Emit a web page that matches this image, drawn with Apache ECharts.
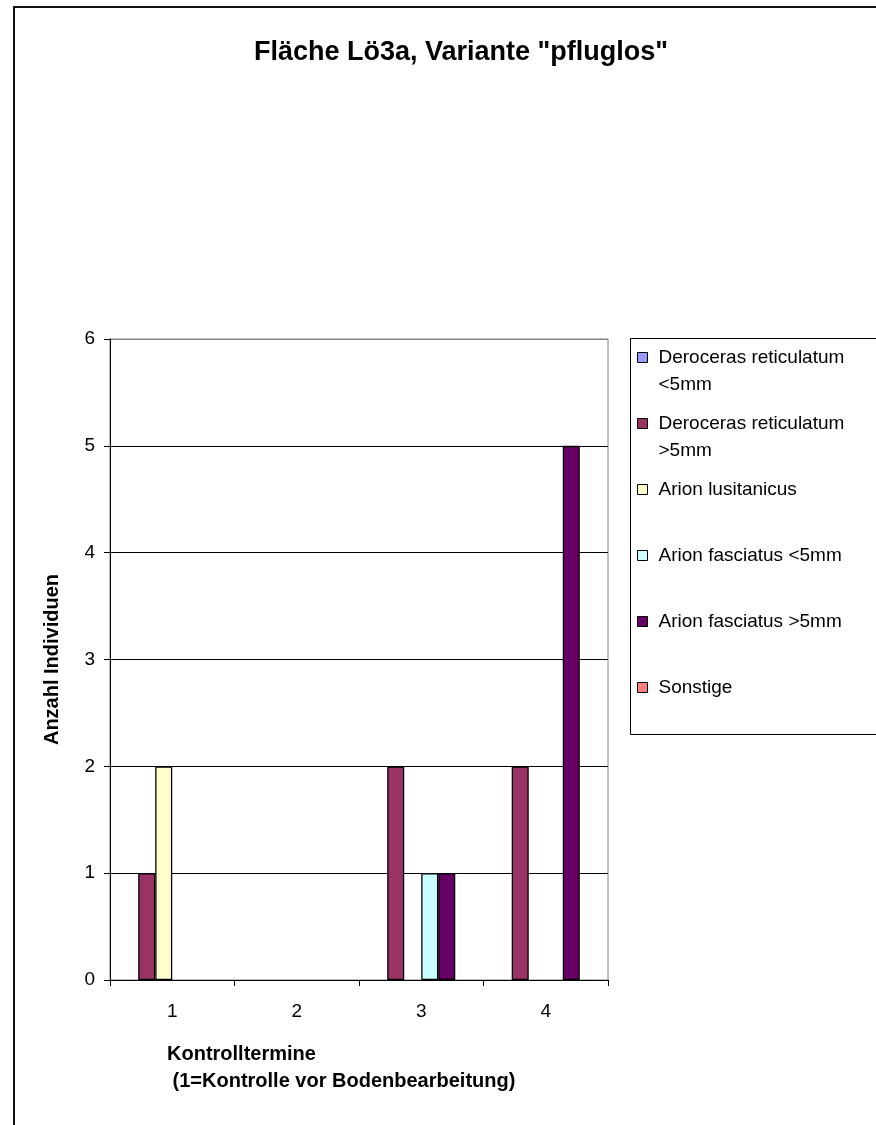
<!DOCTYPE html>
<html>
<head>
<meta charset="utf-8">
<script src="https://cdn.jsdelivr.net/npm/echarts@6/dist/echarts.min.js"></script>
<style>html,body{margin:0;padding:0;background:#fff}#c{width:876px;height:1125px}</style>
</head>
<body>
<div id="c"></div>
<script>
const categories = ['1', '2', '3', '4'];
const seriesNames = [
  'Deroceras reticulatum <5mm',
  'Deroceras reticulatum >5mm',
  'Arion lusitanicus',
  'Arion fasciatus <5mm',
  'Arion fasciatus >5mm',
  'Sonstige'
];
const legendLabels = [
  'Deroceras reticulatum\n<5mm',
  'Deroceras reticulatum\n>5mm',
  'Arion lusitanicus',
  'Arion fasciatus <5mm',
  'Arion fasciatus >5mm',
  'Sonstige'
];
const derocerasSmall = [0, 0, 0, 0];
const derocerasLarge = [1, 0, 2, 2];
const arionLusitanicus = [2, 0, 0, 0];
const arionFasciatusSmall = [0, 0, 1, 0];
const arionFasciatusLarge = [0, 0, 1, 5];
const sonstige = [0, 0, 0, 0];
const yTicks = [0, 1, 2, 3, 4, 5, 6];
const colors = ['#9999FF', '#993366', '#FFFFCC', '#CCFFFF', '#660066', '#FF8080'];
const values = [derocerasSmall, derocerasLarge, arionLusitanicus, arionFasciatusSmall, arionFasciatusLarge, sonstige];

const FONT = '"Liberation Sans", Arial, sans-serif';
const chart = echarts.init(document.getElementById('c'), null, {renderer: 'canvas'});

function legendFmt(name) {
  const lbl = legendLabels[seriesNames.indexOf(name)];
  const lines = lbl.split('\n');
  return '\n' + lines[0] + '\n' + (lines[1] || ' ');
}

chart.setOption({
  backgroundColor: '#fff',
  animation: false,
  title: [{
    text: 'Fläche Lö3a, Variante "pfluglos"',
    left: 456, top: 34, textAlign: 'center',
    textStyle: {fontFamily: FONT, fontWeight: 'bold', fontSize: 27, color: '#000'}
  }, {
    text: 'Kontrolltermine\n (1=Kontrolle vor Bodenbearbeitung)',
    left: 162, top: 1036,
    textStyle: {fontFamily: FONT, fontWeight: 'bold', fontSize: 20, lineHeight: 27, color: '#000'}
  }],
  graphic: [{
    type: 'polyline', silent: true,
    shape: {points: [[14, 1125], [14, 7], [876, 7]]},
    style: {stroke: '#111', lineWidth: 2, fill: null}
  }, {
    type: 'rect', silent: true,
    shape: {x: 630.5, y: 338.5, width: 260, height: 396},
    style: {stroke: '#000', lineWidth: 1, fill: null}
  }],
  legend: {
    orient: 'vertical',
    left: 637, top: 317,
    padding: 0,
    itemGap: -15,
    itemWidth: 10, itemHeight: 10,
    icon: 'rect',
    data: seriesNames,
    formatter: legendFmt,
    itemStyle: {borderColor: '#000', borderWidth: 1},
    textStyle: {fontFamily: FONT, fontSize: 19, lineHeight: 27, color: '#000', padding: [0, 0, 0, 6]}
  },
  grid: {left: 110, right: 268, top: 339, bottom: 145, show: true, borderColor: '#808080', borderWidth: 1},
  xAxis: {
    type: 'category',
    data: categories,
    axisLine: {lineStyle: {color: '#000', width: 1}},
    axisTick: {show: true, length: 6, alignWithLabel: false, inside: false, lineStyle: {color: '#000'}},
    axisLabel: {fontFamily: FONT, fontSize: 19, color: '#000', margin: 22},
    splitLine: {show: false}
  },
  yAxis: {
    type: 'value',
    min: 0, max: 6, interval: 1,
    name: 'Anzahl Individuen',
    nameLocation: 'middle',
    nameGap: 48,
    nameRotate: 90,
    nameTextStyle: {fontFamily: FONT, fontWeight: 'bold', fontSize: 20, color: '#000'},
    axisLine: {show: true, lineStyle: {color: '#000', width: 1}},
    axisTick: {show: true, length: 6, lineStyle: {color: '#000'}},
    axisLabel: {fontFamily: FONT, fontSize: 19, color: '#000', margin: 15,
      formatter: v => (yTicks.indexOf(v) >= 0 ? String(v) : '')},
    splitLine: {show: true, lineStyle: {color: ['#000', '#000', '#000', '#000', '#000', '#000', '#808080'], width: 1}}
  },
  series: seriesNames.map((n, i) => ({
    name: n,
    type: 'bar',
    data: values[i].map(v => (v === 0 ? {value: v, itemStyle: {borderWidth: 0}} : v)),
    barGap: '0%',
    barCategoryGap: '18%',
    itemStyle: {color: colors[i], borderColor: '#000', borderWidth: 1.3},
    emphasis: {disabled: true}
  }))
});
</script>
</body>
</html>
